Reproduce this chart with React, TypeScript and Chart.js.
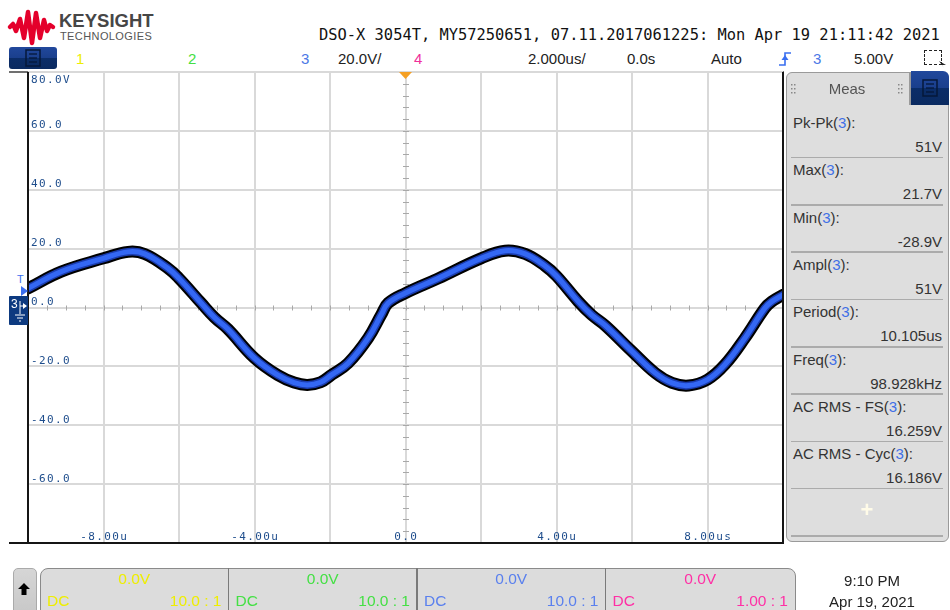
import React, { useEffect, useRef } from "react";
import { Chart, registerables } from "chart.js";

Chart.register(...registerables);

// ---- data (channel 3 trace) ----
const timeUs = [-10, -9.12, -8, -7.35, -6.91, -6.29, -6.0, -5.41, -5.06, -4.7, -4.0, -3.38, -2.95, -2.6, -2.25, -1.95, -1.52, -0.99, -0.64, -0.46, 0.0, 0.87, 2.0, 2.64, 3.17, 3.7, 4.0, 4.58, 4.93, 5.29, 6.0, 6.62, 7.06, 7.5, 8.0, 8.46, 8.99, 9.52, 9.7, 10];
const volts = [6.5, 12.2, 16.7, 18.9, 18.2, 13.3, 9.9, 1.5, -3.4, -7.4, -17.2, -23.0, -25.5, -26.3, -25.4, -22.8, -18.9, -10.4, -2.4, 1.5, 4.9, 9.9, 16.7, 19.3, 18.2, 14.1, 10.7, 2.0, -2.5, -6.1, -14.9, -22.3, -25.6, -26.5, -24.5, -19.4, -10.4, -0.2, 2.0, 4.3];

// ---- axis labels ----
const yTickValues = [80, 60, 40, 20, 0, -20, -40, -60];
const yTickLabels = ["80.0V", "60.0", "40.0", "20.0", "0.0", "-20.0", "-40.0", "-60.0"];
const xTickValues = [-8, -4, 0, 4, 8];
const xTickLabels = ["-8.00u", "-4.00u", "0.0", "4.00u", "8.00us"];

// ---- measurement panel ----
const measLabels = ["Pk-Pk", "Max", "Min", "Ampl", "Period", "Freq", "AC RMS - FS", "AC RMS - Cyc"];
const measValues = ["51V", "21.7V", "-28.9V", "51V", "10.105us", "98.928kHz", "16.259V", "16.186V"];

// ---- channel bar ----
const chanOffsets = ["0.0V", "0.0V", "0.0V", "0.0V"];
const chanCoupling = ["DC", "DC", "DC", "DC"];
const chanProbe = ["10.0 : 1", "10.0 : 1", "10.0 : 1", "1.00 : 1"];
const chanColors = ["#eeee00", "#44e044", "#5a80ee", "#ff2fa5"];

const scopePlugin = {
  id: "scopeDecor",
  beforeDatasetsDraw(chart: any) {
    const { ctx, chartArea: a, scales } = chart;
    const x = scales.x;
    const y = scales.y;
    ctx.save();
    // minor ticks on center axes
    ctx.strokeStyle = "#a8a8a8";
    ctx.lineWidth = 1;
    const y0 = Math.round(y.getPixelForValue(0));
    const x0 = Math.round(x.getPixelForValue(0));
    ctx.beginPath();
    for (let i = -20; i <= 20; i++) {
      const px = Math.round(x.getPixelForValue(i * 0.5)) + 0.5;
      ctx.moveTo(px, y0 - 2.5);
      ctx.lineTo(px, y0 + 2.5);
    }
    for (let i = -20; i <= 20; i++) {
      const py = Math.round(y.getPixelForValue(i * 4)) + 0.5;
      ctx.moveTo(x0 - 3, py);
      ctx.lineTo(x0 + 3, py);
    }
    ctx.stroke();
    // labels
    ctx.font = "11px 'DejaVu Sans Mono'";
    (ctx as any).letterSpacing = "1.4px";
    ctx.fillStyle = "#1e4d8c";
    ctx.textAlign = "left";
    ctx.textBaseline = "alphabetic";
    yTickValues.forEach((v, i) => {
      const py = y.getPixelForValue(v);
      const ty = i === 0 ? py + 11 : py - 2.5;
      ctx.fillText(yTickLabels[i], a.left + 3, ty);
    });
    ctx.textAlign = "center";
    xTickValues.forEach((v, i) => {
      const px = x.getPixelForValue(v);
      ctx.fillText(xTickLabels[i], px + 0.7, a.bottom - 3);
    });
    ctx.restore();
  },
  afterDatasetsDraw(chart: any) {
    const { ctx, chartArea: a } = chart;
    ctx.save();
    ctx.strokeStyle = "#151515";
    ctx.lineWidth = 2;
    ctx.beginPath();
    ctx.moveTo(a.left, a.top);
    ctx.lineTo(a.left, a.bottom);
    ctx.lineTo(a.right, a.bottom);
    ctx.lineTo(a.right, a.top);
    ctx.stroke();
    ctx.restore();
  },
};

function Txt(props: any) {
  const { x, cy, children, size = 15, color = "#222", align = "left", font, weight, ls } = props;
  const h = 22;
  const style: any = {
    position: "absolute",
    top: cy - h / 2,
    height: h,
    lineHeight: h + "px",
    fontSize: size,
    color,
    whiteSpace: "pre",
    fontFamily: font,
    fontWeight: weight,
    letterSpacing: ls,
  };
  if (align === "left") style.left = x;
  else if (align === "right") style.right = 950 - x;
  else {
    style.left = x - 200;
    style.width = 400;
    style.textAlign = "center";
  }
  return <div style={style}>{children}</div>;
}

function MenuIcon(props: any) {
  const { left, top, w, h, rad } = props;
  return (
    <div
      style={{
        position: "absolute",
        left,
        top,
        width: w,
        height: h,
        borderRadius: rad,
        background: "linear-gradient(#21489c 0%, #1a3f8c 50%, #0b2d68 50%, #0a2a60 100%)",
      }}
    >
      <svg width={w} height={h} style={{ position: "absolute", left: 0, top: 0 }}>
        <rect x={w / 2 - 7} y={h / 2 - 8} width={14} height={16} fill="none" stroke="#06183a" strokeWidth={1.5} />
        <line x1={w / 2 - 4} y1={h / 2 - 4} x2={w / 2 + 4} y2={h / 2 - 4} stroke="#06183a" strokeWidth={1.3} />
        <line x1={w / 2 - 4} y1={h / 2} x2={w / 2 + 4} y2={h / 2} stroke="#06183a" strokeWidth={1.3} />
        <line x1={w / 2 - 4} y1={h / 2 + 4} x2={w / 2 + 4} y2={h / 2 + 4} stroke="#06183a" strokeWidth={1.3} />
      </svg>
    </div>
  );
}

export default function App() {
  const ref = useRef<HTMLCanvasElement>(null);

  useEffect(() => {
    const pts = timeUs.map((t, i) => ({ x: t, y: volts[i] }));
    const mk = (color: string, width: number) => ({
      data: pts,
      borderColor: color,
      borderWidth: width,
      pointRadius: 0,
      tension: 0.4,
      clip: 0,
      fill: false,
      borderJoinStyle: "round" as const,
      borderCapStyle: "round" as const,
    });
    const chart = new Chart(ref.current as HTMLCanvasElement, {
      type: "line",
      data: { datasets: [mk("#3468f4", 5), mk("#1a3caf", 8), mk("#000000", 12)] as any },
      options: {
        animation: false,
        responsive: false,
        events: [],
        layout: { padding: 1 },
        plugins: { legend: { display: false }, tooltip: { enabled: false } },
        scales: {
          x: {
            type: "linear",
            min: -10,
            max: 10,
            ticks: { display: false, stepSize: 2 },
            grid: { color: "#d9d9d9", lineWidth: 2, drawTicks: false },
            border: { display: false },
            afterFit: (s: any) => {
              s.height = 0;
            },
          },
          y: {
            type: "linear",
            min: -80,
            max: 80,
            ticks: { display: false, stepSize: 20 },
            grid: { color: "#d9d9d9", lineWidth: 2, drawTicks: false },
            border: { display: false },
            afterFit: (s: any) => {
              s.width = 0;
            },
          },
        },
      } as any,
      plugins: [scopePlugin],
    });
    return () => chart.destroy();
  }, []);

  const sans = "'Liberation Sans', Arial, sans-serif";
  const rowTop = (k: number) => 110 + 47.3 * k;
  const sections = [40, 228.5, 417, 605.5, 795];

  return (
    <div
      style={{
        position: "fixed",
        left: 0,
        top: 0,
        width: 950,
        height: 610,
        background: "#ffffff",
        overflow: "hidden",
        fontFamily: sans,
      }}
    >
      {/* logo */}
      <svg width={60} height={50} style={{ position: "absolute", left: 0, top: 0 }}>
        <polyline
          points="10,27 13,24 16,31 20,19 24,38 28,12 32,43 36,13 40,38 44,20 47,31 50,25 53,27"
          fill="none"
          stroke="#e4002b"
          strokeWidth={4.5}
          strokeLinejoin="round"
          strokeLinecap="round"
        />
      </svg>
      <Txt x={59} cy={20.5} size={18.5} weight="bold" color="#464646">KEYSIGHT</Txt>
      <Txt x={60} cy={35.5} size={11} color="#555" ls="0.4px">TECHNOLOGIES</Txt>
      <Txt x={319} cy={34.5} size={15.4} font="'DejaVu Sans Mono', monospace" color="#111">
        DSO-X 3054T, MY57250651, 07.11.2017061225: Mon Apr 19 21:11:42 2021
      </Txt>

      {/* second header row */}
      <MenuIcon left={9} top={47} w={48} h={22} rad={3} />
      <Txt x={76} cy={59} color="#eeee00">1</Txt>
      <Txt x={188} cy={59} color="#44e044">2</Txt>
      <Txt x={301} cy={59} color="#4b78e6">3</Txt>
      <Txt x={338} cy={59} color="#222">20.0V/</Txt>
      <Txt x={414} cy={59} color="#f0309a">4</Txt>
      <Txt x={528} cy={59} color="#222">2.000us/</Txt>
      <Txt x={627} cy={59} color="#222">0.0s</Txt>
      <Txt x={711} cy={59} color="#222">Auto</Txt>
      <svg width={14} height={18} style={{ position: "absolute", left: 778, top: 50 }}>
        <polyline points="1,15 7,15 7,3 13,3" fill="none" stroke="#3a6ff0" strokeWidth={1.6} />
        <polygon points="7,5 3.5,10 10.5,10" fill="#3a6ff0" />
      </svg>
      <Txt x={813} cy={59} color="#4b78e6">3</Txt>
      <Txt x={854} cy={59} color="#222">5.00V</Txt>
      <div
        style={{
          position: "absolute",
          left: 924,
          top: 50,
          width: 16,
          height: 13,
          border: "1.5px dashed #222",
        }}
      />
      <svg width={8} height={8} style={{ position: "absolute", left: 939, top: 61 }}>
        <polygon points="0,0 7,4 3,4 5,7" fill="#222" />
      </svg>

      {/* frame lines outside plot */}
      <div style={{ position: "absolute", left: 9, top: 70.5, width: 775, height: 2, background: "#707070" }} />
      <div style={{ position: "absolute", left: 9, top: 542, width: 20, height: 2, background: "#151515" }} />

      {/* plot */}
      <div style={{ position: "absolute", left: 27, top: 71, width: 757, height: 473 }}>
        <canvas ref={ref} width={757} height={473} style={{ display: "block", width: 757, height: 473 }} />
      </div>

      {/* trigger position marker */}
      <svg width={16} height={10} style={{ position: "absolute", left: 398, top: 71 }}>
        <polygon points="1,1 14,1 7.5,8" fill="#f5a024" />
      </svg>
      {/* trigger level + channel ground markers */}
      <Txt x={17} cy={279} size={11} color="#3a6ff0">T</Txt>
      <svg width={8} height={10} style={{ position: "absolute", left: 21, top: 286 }}>
        <polygon points="0,0 7,5 0,10" fill="#3a6ff0" />
      </svg>
      <svg width={20} height={30} style={{ position: "absolute", left: 9, top: 296 }}>
        <rect x={0} y={0} width={19} height={29} fill="#0d3a80" rx={1} />
        <text x={2} y={12} fontSize={12} fill="#ffffff" fontFamily={sans}>3</text>
        <line x1={11} y1={5} x2={11} y2={18} stroke="#fff" strokeWidth={1} />
        <line x1={11} y1={10} x2={17} y2={10} stroke="#fff" strokeWidth={1} />
        <polygon points="14,7 18,10 14,13" fill="#fff" />
        <line x1={6} y1={19} x2={16} y2={19} stroke="#fff" strokeWidth={1} />
        <line x1={8} y1={22} x2={14} y2={22} stroke="#fff" strokeWidth={1} />
        <line x1={10} y1={25} x2={12} y2={25} stroke="#fff" strokeWidth={1} />
      </svg>

      {/* measurement panel */}
      <div
        style={{
          position: "absolute",
          left: 786,
          top: 72,
          width: 161,
          height: 468,
          background: "#dedede",
          border: "1px solid #9a9a9a",
          borderRadius: 6,
        }}
      />
      <div style={{ position: "absolute", left: 909, top: 72, width: 1.5, height: 33, background: "#9a9a9a" }} />
      <MenuIcon left={911} top={71} w={38} h={34} rad="0 6px 0 0" />
      <svg width={120} height={14} style={{ position: "absolute", left: 789, top: 83 }}>
        {[0, 1].map((c) =>
          [0, 1, 2].map((r) => (
            <g key={c + "-" + r}>
              <rect x={2 + c * 3} y={1 + r * 4} width={1.5} height={1.5} fill="#888" />
              <rect x={109 + c * 3} y={1 + r * 4} width={1.5} height={1.5} fill="#888" />
            </g>
          ))
        )}
      </svg>
      <Txt x={847} cy={89} align="center" color="#555">Meas</Txt>
      {measLabels.map((lbl, k) => (
        <React.Fragment key={lbl}>
          <Txt x={793} cy={rowTop(k) + 13} color="#333">
            {lbl}(<span style={{ color: "#3f6fe6" }}>3</span>):
          </Txt>
          <Txt x={942} cy={rowTop(k) + 37} align="right" color="#333">
            {measValues[k]}
          </Txt>
          <div
            style={{
              position: "absolute",
              left: 791,
              top: rowTop(k + 1) - 0.5,
              width: 152,
              height: 1.5,
              background: "#ababab",
            }}
          />
        </React.Fragment>
      ))}
      <Txt x={867} cy={510} align="center" size={22} weight="bold" color="#fffbe8">+</Txt>
      <div style={{ position: "absolute", left: 791, top: rowTop(9) - 0.5, width: 152, height: 1.5, background: "#ababab" }} />

      {/* bottom bar */}
      <div
        style={{
          position: "absolute",
          left: 12.5,
          top: 568,
          width: 22,
          height: 50,
          borderRadius: 5,
          border: "1px solid #aaa",
          background: "linear-gradient(#d6d6d6, #c6c6c6)",
        }}
      />
      <svg width={14} height={14} style={{ position: "absolute", left: 17, top: 582 }}>
        <polygon points="7,1 13,7 9.5,7 9.5,13 4.5,13 4.5,7 1,7" fill="#000" />
      </svg>
      <div
        style={{
          position: "absolute",
          left: 40,
          top: 568,
          width: 754,
          height: 60,
          background: "#dcdcdc",
          border: "1px solid #8a8a8a",
          borderRadius: "8px 8px 0 0",
        }}
      />
      {[1, 2, 3].map((i) => (
        <div
          key={i}
          style={{ position: "absolute", left: sections[i] - 0.75, top: 568, width: 1.5, height: 42, background: "#7a7a7a" }}
        />
      ))}
      {chanOffsets.map((off, i) => {
        const l = sections[i];
        const r = sections[i + 1];
        return (
          <React.Fragment key={"ch" + i}>
            <Txt x={(l + r) / 2} cy={579} align="center" color={chanColors[i]} size={15.5}>
              {off}
            </Txt>
            <Txt x={l + 7} cy={601} color={chanColors[i]} size={15.5}>
              {chanCoupling[i]}
            </Txt>
            <Txt x={r - 7} cy={601} align="right" color={chanColors[i]} size={15.5}>
              {chanProbe[i]}
            </Txt>
          </React.Fragment>
        );
      })}
      <Txt x={872} cy={580.5} align="center" color="#222">9:10 PM</Txt>
      <Txt x={872} cy={601.5} align="center" color="#222">Apr 19, 2021</Txt>
    </div>
  );
}
